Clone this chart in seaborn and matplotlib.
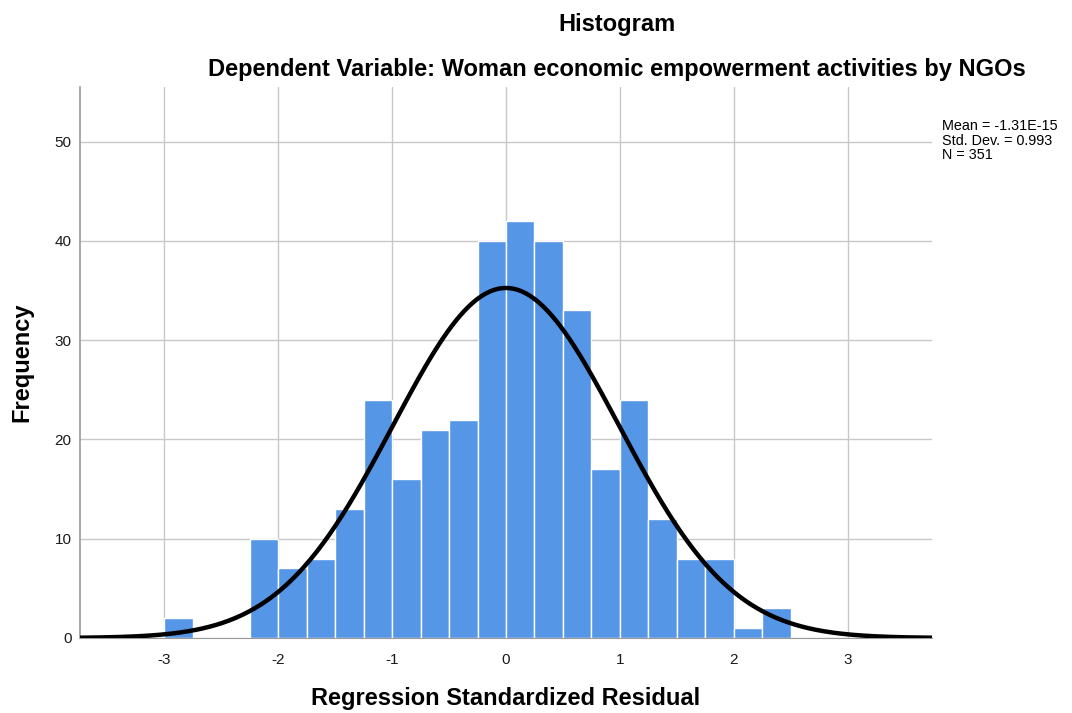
#%% IMPORTS
import numpy as np
import pandas as pd
import matplotlib
matplotlib.use("Agg")
import matplotlib.pyplot as plt
import seaborn as sns

#%% DATA
bin_edges = [-3.0, -2.75, -2.5, -2.25, -2.0, -1.75, -1.5, -1.25, -1.0, -0.75,
             -0.5, -0.25, 0.0, 0.25, 0.5, 0.75, 1.0, 1.25, 1.5, 1.75, 2.0,
             2.25, 2.5]
counts = [2, 0, 0, 10, 7, 8, 13, 24, 16, 21, 22, 40, 42, 40, 33, 17, 24,
          12, 8, 8, 1, 3]
resid_mean = -1.31e-15
resid_sd = 0.993
n_obs = 351
x_ticks = [-3, -2, -1, 0, 1, 2, 3]
y_ticks = [0, 10, 20, 30, 40, 50]

#%% PLOT
sns.set_style("white")
plt.rcParams['font.family'] = ['Liberation Sans', 'DejaVu Sans']

fig = plt.figure(figsize=(10.72, 7.13), dpi=100)
ax = fig.add_axes([0.0746, 0.1052, 0.7948, 0.7728])

edges = np.array(bin_edges)
centers = (edges[:-1] + edges[1:]) / 2
df = pd.DataFrame({"resid": centers, "count": counts})

sns.histplot(data=df, x="resid", weights="count", bins=bin_edges, ax=ax,
             color="#5596E6", alpha=1.0, edgecolor="white", linewidth=1.0,
             zorder=2)

# normal curve scaled to counts
bw = edges[1] - edges[0]
xs = np.linspace(-3.75, 3.75, 400)
ys = n_obs * bw * np.exp(-0.5 * ((xs - resid_mean) / resid_sd) ** 2) / (resid_sd * np.sqrt(2 * np.pi))
sns.lineplot(x=xs, y=ys, ax=ax, color="black", linewidth=3.2, zorder=3)

ax.set_xlim(-3.74, 3.74)
ax.set_ylim(0, 55.5)
ax.set_xticks(x_ticks)
ax.set_xticklabels([str(t) for t in x_ticks])
ax.set_yticks(y_ticks)
ax.grid(True, color="#c8c8c8", linewidth=1.0, zorder=0)
ax.set_axisbelow(True)
ax.tick_params(length=0, labelsize=11, colors="#1a1a1a")
ax.tick_params(axis="x", pad=11)
ax.tick_params(axis="y", pad=6)
for s in ["top", "right"]:
    ax.spines[s].set_visible(False)
ax.spines["left"].set_color("#999999")
ax.spines["bottom"].set_color("#999999")
ax.spines["left"].set_linewidth(1.2)

ax.set_xlabel("Regression Standardized Residual", fontsize=17, fontweight="bold",
              labelpad=14, color="black")
ax.set_ylabel("Frequency", fontsize=17, fontweight="bold", labelpad=15, color="black")

fig.text(0.5756, 0.966, "Histogram", ha="center", va="center", fontsize=17,
         fontweight="bold", color="black")
fig.text(0.5756, 0.902, "Dependent Variable: Woman economic empowerment activities by NGOs",
         ha="center", va="center", fontsize=17, fontweight="bold", color="black")
fig.text(0.879, 0.833, f"Mean = {resid_mean:.2E}\nStd. Dev. = {resid_sd}\nN = {n_obs}",
         ha="left", va="top", fontsize=10.4, linespacing=1.05, color="black")

fig.savefig("out.png", dpi=100)
